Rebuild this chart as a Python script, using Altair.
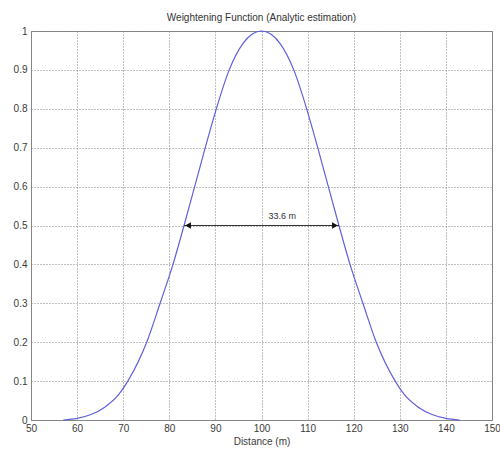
import altair as alt
import pandas as pd

# Curve
distance = [57, 60, 63, 66, 69, 71.0, 75.1, 78.0, 80.8, 83.2, 85.5, 87.8, 90.2, 93.0,
            96, 98, 100, 102, 104, 107.0, 109.8, 112.2, 114.5, 116.8, 119.2,
            122.0, 124.9, 129.0, 131, 134, 137, 140, 143]
weight = [0.0, 0.004, 0.014, 0.033, 0.065, 0.1, 0.2, 0.3, 0.4, 0.5, 0.6, 0.7, 0.8, 0.9,
          0.968, 0.992, 1.0, 0.992, 0.968, 0.9, 0.8, 0.7, 0.6, 0.5, 0.4,
          0.3, 0.2, 0.1, 0.065, 0.033, 0.014, 0.004, 0.0]

# Width annotation
arrow_x = [83.2, 116.8]
arrow_y = [0.5, 0.5]
arrow_label = "33.6 m"
label_x = [104.5]
label_y = [0.5]

x_ticks = [50, 60, 70, 80, 90, 100, 110, 120, 130, 140, 150]
y_ticks = [0, 0.1, 0.2, 0.3, 0.4, 0.5, 0.6, 0.7, 0.8, 0.9, 1]

FONT = "Liberation Sans"

curve_df = pd.DataFrame({"Distance": distance, "Weight": weight})
arrow_df = pd.DataFrame({"Distance": arrow_x, "Weight": arrow_y})
left_df = pd.DataFrame({"Distance": [arrow_x[0]], "Weight": [arrow_y[0]]})
right_df = pd.DataFrame({"Distance": [arrow_x[1]], "Weight": [arrow_y[1]]})
label_df = pd.DataFrame({"Distance": label_x, "Weight": label_y, "t": [arrow_label]})

xscale = alt.Scale(domain=[50, 150], nice=False, zero=False)
yscale = alt.Scale(domain=[0, 1], nice=False)

xaxis = alt.Axis(values=x_ticks, title="Distance (m)", format="d",
                 grid=True, gridDash=[1, 2], gridColor="#808080", gridOpacity=1,
                 labelFont=FONT, labelFontSize=10, labelColor="#3a3a3a",
                 titleFont=FONT, titleFontSize=10, titleFontWeight="normal",
                 titleColor="#3a3a3a", titlePadding=3, labelPadding=3,
                 domain=False, ticks=False, labelFlush=False, labelOverlap=False)
yaxis = alt.Axis(values=y_ticks, title=None, format="~g", tickCount=11,
                 grid=True, gridDash=[1, 2], gridColor="#808080", gridOpacity=1,
                 labelFont=FONT, labelFontSize=10, labelColor="#3a3a3a",
                 labelPadding=4, domain=False, ticks=False, labelFlush=False,
                 labelOverlap=False)


def X():
    return alt.X("Distance:Q", scale=xscale, axis=xaxis)


def Y():
    return alt.Y("Weight:Q", scale=yscale, axis=yaxis)


curve = alt.Chart(curve_df).mark_line(
    color="#6060dc", strokeWidth=1.2, interpolate="monotone"
).encode(x=X(), y=Y())

arrow_line = alt.Chart(arrow_df).mark_line(color="#333", strokeWidth=1.2).encode(
    x=X(), y=Y()
)

left_head = alt.Chart(left_df).mark_point(
    shape="triangle-left", filled=True, color="#111", size=45, opacity=1, xOffset=4
).encode(x=X(), y=Y())

right_head = alt.Chart(right_df).mark_point(
    shape="triangle-right", filled=True, color="#111", size=45, opacity=1, xOffset=-4
).encode(x=X(), y=Y())

label = alt.Chart(label_df).mark_text(
    font=FONT, fontSize=9, color="#333", align="center", baseline="bottom", dy=-5
).encode(x=X(), y=Y(), text="t:N")

chart = alt.layer(curve, arrow_line, left_head, right_head, label).properties(
    width=461,
    height=389,
    title=alt.TitleParams("Weightening Function (Analytic estimation)", font=FONT,
                          fontSize=10, fontWeight="normal", color="#333", offset=3),
    autosize=alt.AutoSizeParams(type="none"),
    padding={"left": 31, "top": 31, "right": 8, "bottom": 32},
    background="white",
).configure_view(stroke="#888", strokeWidth=1)

chart.save("out.html", embed_options={"renderer": "svg", "actions": False})
